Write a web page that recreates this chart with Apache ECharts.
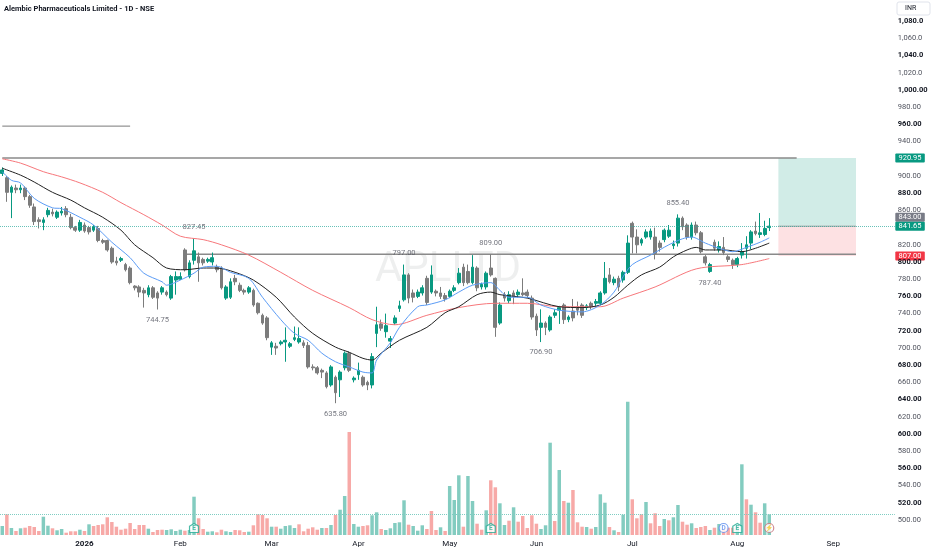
<!DOCTYPE html>
<html>
<head>
<meta charset="utf-8">
<script src="https://cdn.jsdelivr.net/npm/echarts@6/dist/echarts.min.js"></script>
<style>
html, body { margin: 0; padding: 0; background: #fff; }
#chart { width: 932px; height: 550px; }
</style>
</head>
<body>
<div id="chart"></div>
<script>
// trading calendar: weekdays from startDay, NSE holidays skipped, plus empty future slots
const startDay = '2025-12-05'
const holidays = ['2025-12-25', '2026-01-26', '2026-03-03', '2026-03-26', '2026-03-31',
  '2026-04-03', '2026-04-14', '2026-05-01', '2026-05-28', '2026-06-26']
const slotCount = 196

// [open, close, low, high]
const ohlc = [
  [903, 907, 900, 910], [898, 881, 870, 900], [881, 887, 851, 889], [886, 884, 880, 890], [884, 886, 880, 890],
  [886, 876, 872, 888], [876, 866, 863, 878], [864, 847, 843, 868], [849, 847, 839, 852], [846, 849, 837, 852],
  [855, 860, 852, 863], [858, 856, 853, 862], [852, 858, 850, 860], [857, 859, 854, 864], [862, 855, 852, 865],
  [852, 840, 838, 856], [840, 837, 835, 842], [837, 846, 835, 849], [843, 836, 834, 846], [840, 835, 832, 842],
  [837, 841, 835, 843], [839, 825, 823, 842], [825, 823, 821, 827], [825, 814, 812, 826], [816, 800, 798, 818],
  [801, 799, 796, 806], [802, 804, 800, 806], [797, 791, 789, 799], [793, 776, 774, 795], [772, 770, 767, 773],
  [771, 765, 759, 773], [767, 764, 747, 770], [762, 770, 759, 773], [770, 759, 757, 772], [764, 758, 744.75, 766],
  [765, 770, 762, 772], [765, 762, 760, 767], [758, 783, 756, 785], [779, 783, 762, 789], [780, 783, 779, 788],
  [814, 791, 789, 816], [783, 799, 781, 802], [802, 813, 797, 827.45], [806, 799, 777, 811], [803, 799, 796, 805],
  [801, 803, 799, 805], [800, 805, 796, 811], [794, 791, 788, 797], [793, 770, 768, 795], [758, 771, 756, 773],
  [759, 777, 757, 781], [781, 777, 773, 785], [773, 767, 765, 776], [767, 765, 762, 769], [765, 770, 763, 772],
  [767, 750, 748, 769], [752, 741, 739, 753], [738, 729, 727, 740], [735, 712, 709, 737], [701, 706, 692, 708],
  [702, 700, 692, 706], [705, 707, 703, 709], [707, 709, 684, 724], [702, 705, 700, 707], [710, 712, 708, 725],
  [707, 711, 705, 724], [706, 703, 700, 709], [703, 678, 676, 707], [678, 677, 674, 681], [677, 671, 669, 679],
  [674, 672, 665, 676], [671, 655, 653, 673], [657, 678, 655, 680], [666, 648, 635.8, 668], [663, 672, 643, 674],
  [677, 694, 674, 696], [694, 674, 672, 696], [663, 665, 660, 667], [669, 674, 663, 683], [666, 657, 655, 668],
  [660, 657, 651, 662], [657, 690, 653, 694], [717, 727, 701, 748], [728, 723, 720, 733], [719, 726, 712, 740],
  [708, 711, 700, 714], [729, 735, 727, 738], [746, 749, 742, 755], [756, 785, 754, 797], [785, 758, 752, 787],
  [764, 759, 753, 768], [760, 765, 758, 768], [764, 770, 761, 773], [781, 753, 750, 784], [765, 785, 763, 796],
  [766, 764, 760, 768], [764, 760, 757, 771], [761, 757, 754, 764], [760, 766, 758, 768], [767, 770, 765, 773],
  [776, 787, 774, 793], [794, 776, 772, 798], [789, 776, 774, 797], [776, 794, 774, 808], [793, 770, 766, 795],
  [771, 774, 768, 776], [771, 787, 768, 789], [793, 785, 783, 809], [781, 724, 713, 782], [729, 750, 727, 753],
  [762, 758, 754, 765], [755, 762, 752, 766], [764, 760, 751, 767], [762, 765, 759, 768], [764, 762, 760, 781],
  [765, 761, 758, 768], [758, 736, 733, 761], [737, 721, 714, 740], [724, 729, 706.9, 745], [729, 724, 715, 731],
  [721, 736, 719, 738], [738, 741, 735, 745], [744, 747, 728, 749], [750, 733, 728, 752], [733, 736, 730, 738],
  [743, 735, 731, 757], [748, 744, 738, 754], [750, 738, 735, 752], [747, 749, 744, 751], [752, 748, 745, 754],
  [752, 754, 749, 757], [752, 764, 750, 766], [764, 781, 762, 800], [785, 777, 775, 793], [776, 780, 773, 783],
  [781, 771, 766, 784], [779, 788, 776, 790], [788, 822, 786, 831], [845, 829, 810, 847], [829, 820, 810, 838],
  [822, 826, 819, 828], [829, 835, 827, 838], [829, 836, 826, 839], [829, 810, 803, 840], [822, 817, 812, 825],
  [826, 837, 823, 839], [830, 837, 828, 843], [819, 821, 815, 825], [822, 851, 818, 855.4], [851, 841, 837, 853],
  [843, 829, 826, 845], [829, 843, 826, 846], [843, 834, 831, 847], [834, 812, 810, 836], [806, 799, 796, 808],
  [789, 797, 787.4, 799], [823, 816, 813, 826], [814, 818, 811, 824], [817, 811, 808, 829], [806, 803, 800, 808],
  [802, 797, 792, 804], [797, 804, 794, 806], [808, 812, 804, 822], [816, 820, 804, 830], [822, 835, 815, 837],
  [836, 833, 831, 847], [832, 834, 828, 857], [832, 839, 830, 848], [840, 841.65, 836, 851]
]

// volume in thousand shares, and whether the bar is drawn as an up bar
const volume = [
  90, 207, 70, 40, 67, 73, 90, 80, 40, 183, 93, 67, 47, 60, 23, 37, 37, 53, 40, 107,
  90, 100, 107, 177, 130, 83, 53, 63, 120, 60, 100, 100, 63, 30, 50, 53, 50, 57, 40, 53,
  43, 50, 383, 167, 60, 33, 37, 27, 53, 37, 30, 50, 47, 30, 33, 97, 207, 200, 167, 83,
  83, 63, 90, 97, 70, 107, 37, 63, 77, 53, 70, 70, 100, 200, 253, 390, 1030, 110, 83, 90,
  97, 197, 227, 60, 50, 67, 120, 127, 347, 103, 90, 43, 97, 60, 240, 50, 77, 40, 490, 350,
  597, 83, 590, 340, 113, 53, 247, 547, 477, 317, 100, 143, 277, 133, 190, 70, 197, 113, 60, 97,
  923, 140, 650, 340, 323, 450, 127, 83, 80, 63, 80, 407, 323, 80, 47, 30, 203, 1333, 357, 167,
  207, 330, 117, 217, 90, 160, 147, 177, 300, 133, 103, 117, 70, 80, 90, 50, 73, 110, 60, 73,
  73, 90, 707, 357, 303, 227, 123, 317, 207
]
const volUp = [
  1, 0, 1, 0, 1, 0, 0, 0, 0, 1, 1, 0, 1, 1, 0, 0, 0, 1, 0, 1,
  0, 0, 0, 0, 0, 0, 0, 0, 0, 0, 0, 0, 1, 0, 0, 0, 1, 1, 1, 1,
  0, 1, 1, 0, 0, 1, 1, 0, 0, 1, 1, 0, 0, 0, 1, 0, 0, 0, 0, 1,
  0, 1, 1, 1, 1, 0, 0, 0, 0, 0, 1, 0, 1, 0, 1, 1, 0, 1, 1, 0,
  0, 1, 1, 0, 1, 1, 1, 1, 1, 0, 1, 1, 1, 0, 0, 0, 1, 0, 1, 1,
  1, 0, 1, 1, 0, 0, 1, 0, 0, 1, 1, 0, 1, 0, 0, 0, 0, 0, 1, 1,
  1, 0, 1, 0, 1, 0, 0, 0, 1, 0, 1, 1, 1, 0, 1, 0, 1, 1, 0, 0,
  0, 1, 0, 0, 0, 1, 0, 1, 1, 0, 0, 1, 0, 0, 0, 1, 0, 1, 0, 0,
  0, 1, 1, 0, 1, 0, 0, 1, 1
]
const avgVolume = 210

// moving averages: [bar index, value]
const emaFast = [[0, 905], [2, 895], [4, 892], [7, 874], [11, 863], [13, 862], [17, 852], [20, 843], [24, 823],
  [28, 805], [31, 787], [35, 777], [36, 773], [39, 779], [42, 787], [44, 794], [47, 795], [50, 788], [54, 781],
  [57, 759], [61, 733], [64, 717], [67, 709], [70, 694], [73, 684], [76, 678], [79, 672], [81, 671], [82, 686],
  [85, 706], [87, 724], [91, 748], [93, 750], [97, 756], [100, 765], [103, 773], [107, 776], [109, 767],
  [111, 759], [115, 759], [118, 750], [122, 744], [127, 742], [131, 750], [134, 765], [136, 783], [138, 797],
  [142, 808], [146, 820], [149, 827], [151, 829], [154, 822], [157, 816], [160, 812], [163, 817], [166, 823],
  [168, 828]]
const emaMid = [[0, 909], [4, 901], [7, 893], [11, 881], [15, 872], [18, 863], [22, 852], [26, 837], [29, 820],
  [33, 805], [36, 793], [40, 791], [44, 793], [47, 793], [51, 788], [55, 779], [60, 759], [64, 736], [68, 717],
  [73, 701], [76, 695], [79, 688], [81, 686], [83, 694], [87, 709], [93, 724], [97, 741], [100, 748], [104, 762],
  [107, 765], [109, 762], [115, 758], [122, 748], [127, 747], [131, 750], [134, 759], [137, 773], [140, 785],
  [144, 794], [147, 806], [150, 814], [152, 817], [154, 814], [158, 814], [162, 812], [165, 816], [168, 822]]
const emaSlow = [[0, 920], [4, 915], [9, 905], [13, 899], [17, 892], [22, 881], [26, 869], [31, 855], [35, 843],
  [39, 830], [44, 826], [48, 820], [54, 808], [61, 788], [68, 767], [76, 747], [81, 733], [86, 727], [93, 738],
  [100, 747], [108, 752], [115, 752], [122, 748], [131, 748], [136, 758], [143, 771], [152, 792], [162, 797],
  [168, 804]]

// swing high / low annotations
const pivotIdx = [42, 34, 73, 88, 107, 118, 148, 155]
const pivotPrice = [827.45, 744.75, 635.80, 797.00, 809.00, 706.90, 855.40, 787.40]
const pivotHigh = [1, 0, 0, 1, 1, 0, 1, 0]

// drawn horizontal levels: price, from bar, to bar
const levelPrice = [958, 920.95, 809, 841.65]
const levelFrom = [0, 0, 40, 170]
const levelTo = [28, 174, 187, 187]

// long position tool
const target = 920.95
const entry = 841.65
const stop = 807
const boxFrom = 170
const boxTo = 187
const lastPrice = 841.65

const tagPrices = [920.95, 843.00, 841.65, 807.00]
const eventIdx = [42, 107, 158, 161, 168]
const eventType = ['E', 'E', 'D', 'E', '⚡']

const priceMin = 480
const priceMax = 1100
const priceStep = 20

const dates = []
{
  const d = new Date(startDay + 'T00:00:00Z')
  while (dates.length < slotCount) {
    const s = d.toISOString().slice(0, 10)
    const wd = d.getUTCDay()
    if (wd !== 0 && wd !== 6 && !holidays.includes(s)) dates.push(s)
    d.setUTCDate(d.getUTCDate() + 1)
  }
}
const monthNames = ['Jan', 'Feb', 'Mar', 'Apr', 'May', 'Jun', 'Jul', 'Aug', 'Sep', 'Oct', 'Nov', 'Dec']
const isMonthStart = i => i > 0 && dates[i].slice(5, 7) !== dates[i - 1].slice(5, 7)

const font = 'Roboto, "Noto Sans", sans-serif'
const gridL = -2.3
const gridR = 37.2

const fmtPrice = v => v > 1000
  ? v.toLocaleString('en-US', { minimumFractionDigits: 1, maximumFractionDigits: 1 })
  : v.toLocaleString('en-US', { minimumFractionDigits: 2, maximumFractionDigits: 2 })

const levelStyles = [
  { color: '#7a7a7a', width: 1 },
  { color: '#8a8a8a', width: 1.5 },
  { color: '#8a8a8a', width: 1.5 },
  { color: '#a0a0a0', width: 1 }
]

const eventStyles = {
  E: { symbol: 'path://M0,3 L5,0 L10,3 L10,10 L0,10 Z', border: '#22ab94', text: '#22ab94' },
  D: { symbol: 'circle', border: '#5b8def', text: '#5b8def' },
  '⚡': { symbol: 'circle', border: '#c4707a', text: '#c4707a' }
}

const chart = echarts.init(document.getElementById('chart'))

const series = [
  {
    type: 'bar',
    xAxisIndex: 1,
    yAxisIndex: 1,
    barWidth: '76%',
    z: 1,
    data: volume.map((v, i) => ({
      value: v,
      itemStyle: { color: volUp[i] ? 'rgba(8,153,129,0.5)' : 'rgba(239,83,80,0.5)' }
    })),
    markLine: {
      silent: true,
      symbol: 'none',
      label: { show: false },
      lineStyle: { type: 'dotted', color: '#7fcdc2', width: 1 },
      data: [{ yAxis: avgVolume }]
    }
  },
  {
    type: 'candlestick',
    xAxisIndex: 0,
    yAxisIndex: 0,
    barWidth: 3.2,
    z: 3,
    data: ohlc,
    itemStyle: {
      color: '#089981', color0: '#7c7c7c',
      borderColor: '#089981', borderColor0: '#7c7c7c', borderWidth: 1
    },
    markLine: {
      silent: true,
      symbol: 'none',
      label: { show: false },
      lineStyle: { type: 'dotted', color: '#26a69a', width: 1, opacity: 0.7 },
      data: [{ yAxis: lastPrice }]
    },
    markArea: {
      silent: true,
      data: [
        [{ coord: [boxFrom, target], itemStyle: { color: 'rgba(8,153,129,0.19)' } }, { coord: [boxTo, entry] }],
        [{ coord: [boxFrom, entry], itemStyle: { color: 'rgba(242,54,69,0.15)' } }, { coord: [boxTo, stop] }]
      ]
    }
  },
  { data: emaSlow, color: '#f7777b' },
  { data: emaMid, color: '#222' },
  { data: emaFast, color: '#5b9cf6' }
].map(s => s.type ? s : {
  type: 'line', xAxisIndex: 0, yAxisIndex: 0, z: 4, smooth: 0.3, showSymbol: false, silent: true,
  data: s.data, lineStyle: { width: 1, color: s.color }, itemStyle: { color: s.color }
})

levelPrice.forEach((p, i) => {
  series.push({
    type: 'line', xAxisIndex: 0, yAxisIndex: 0, z: 3, showSymbol: false, silent: true,
    data: [[levelFrom[i], p], [levelTo[i], p]],
    lineStyle: levelStyles[i]
  })
})

series.push({
  type: 'scatter', xAxisIndex: 0, yAxisIndex: 0, z: 5, symbolSize: 1, silent: true,
  itemStyle: { color: 'rgba(0,0,0,0)' },
  data: pivotIdx.map((x, i) => ({
    value: [x, pivotPrice[i]],
    label: { position: pivotHigh[i] ? 'top' : 'bottom', distance: pivotHigh[i] ? 7 : 6 }
  })),
  label: {
    show: true, fontSize: 7.5, color: '#50535e', fontFamily: font,
    formatter: p => p.value[1].toFixed(2)
  }
})

series.push({
  type: 'scatter', xAxisIndex: 1, yAxisIndex: 1, z: 6, silent: true,
  data: eventIdx.map((x, i) => {
    const st = eventStyles[eventType[i]]
    return {
      value: [x, 70],
      symbol: st.symbol,
      itemStyle: { color: '#fff', borderColor: st.border, borderWidth: 1.2 },
      label: { formatter: eventType[i], color: st.text }
    }
  }),
  symbolSize: 9,
  label: { show: true, position: 'inside', fontSize: 6.5, fontWeight: 'bold', fontFamily: font }
})

chart.setOption({
  animation: false,
  backgroundColor: '#fff',
  textStyle: { fontFamily: font },
  grid: [
    { left: gridL, right: gridR, top: 4, bottom: 12.8 },
    { left: gridL, right: gridR, top: 400, bottom: 15 }
  ],
  xAxis: [
    {
      type: 'category', gridIndex: 0, data: dates,
      axisLine: { show: false }, axisTick: { show: false }, axisLabel: { show: false }, splitLine: { show: false }
    },
    {
      type: 'category', gridIndex: 1, data: dates,
      axisLine: { show: false }, axisTick: { show: false }, splitLine: { show: false },
      axisLabel: {
        interval: i => isMonthStart(i),
        margin: 5, fontSize: 8, color: '#131722', fontFamily: font,
        formatter: v => {
          const m = +v.slice(5, 7)
          return m === 1 ? '{b|' + v.slice(0, 4) + '}' : monthNames[m - 1]
        },
        rich: { b: { fontSize: 8, fontWeight: 'bold', color: '#131722', fontFamily: font } }
      }
    }
  ],
  yAxis: [
    {
      type: 'value', gridIndex: 0, position: 'right', min: priceMin, max: priceMax, interval: priceStep,
      axisLine: { show: false }, axisTick: { show: false }, splitLine: { show: false },
      axisLabel: {
        margin: 3, fontSize: 7.5, fontFamily: font,
        formatter: v => {
          if (v <= priceMin || v >= priceMax) return ''
          if (tagPrices.some(t => Math.abs(t - v) < 5)) return ''
          return v % 40 === 0 ? '{b|' + fmtPrice(v) + '}' : '{n|' + fmtPrice(v) + '}'
        },
        rich: {
          b: { fontSize: 7.5, fontWeight: 'bold', color: '#131722', fontFamily: font },
          n: { fontSize: 7.5, color: '#50535e', fontFamily: font }
        }
      }
    },
    { type: 'value', gridIndex: 1, min: 0, max: 1350, show: false }
  ],
  series
})

// price tags on the scale, pushed apart when they collide
const tagColors = ['#089981', '#787b86', '#089981', '#f23645']
const tagY = tagPrices.map(p => chart.convertToPixel({ yAxisIndex: 0 }, p))
for (let i = tagY.length - 2; i >= 0; i--) {
  if (tagY[i] > tagY[i + 1] - 9) tagY[i] = tagY[i + 1] - 9
}
const axisX = 932 - gridR

const graphics = [
  {
    type: 'text', left: 4, top: 5, z: 50,
    style: {
      text: 'Alembic Pharmaceuticals Limited - 1D - NSE', fill: '#131722',
      fontSize: 7.5, fontWeight: 'bold', fontFamily: '"Liberation Sans Narrow", ' + font
    }
  },
  {
    type: 'group', z: 50, children: [
      { type: 'rect', shape: { x: 897, y: 2, width: 33, height: 13, r: 2 }, style: { fill: '#fff', stroke: '#e0e3eb', lineWidth: 1 } },
      { type: 'text', x: 905, y: 8.5, style: { text: 'INR', fill: '#131722', fontSize: 7, fontFamily: font, verticalAlign: 'middle' } }
    ]
  },
  {
    type: 'text', x: 448, y: 270, z: 0, silent: true,
    style: {
      text: 'APLLTD', fill: 'rgba(19,23,34,0.07)', fontSize: 42, fontFamily: font,
      align: 'center', verticalAlign: 'middle'
    }
  }
]
tagPrices.forEach((p, i) => {
  graphics.push({
    type: 'group', z: 100, children: [
      { type: 'rect', shape: { x: axisX + 0.5, y: tagY[i] - 4.5, width: 29.5, height: 9, r: 1 }, style: { fill: tagColors[i] } },
      {
        type: 'text', x: axisX + 15.2, y: tagY[i],
        style: { text: p.toFixed(2), fill: '#fff', fontSize: 7.5, fontFamily: font, align: 'center', verticalAlign: 'middle' }
      }
    ]
  })
})
chart.setOption({ graphic: graphics })
</script>
</body>
</html>
